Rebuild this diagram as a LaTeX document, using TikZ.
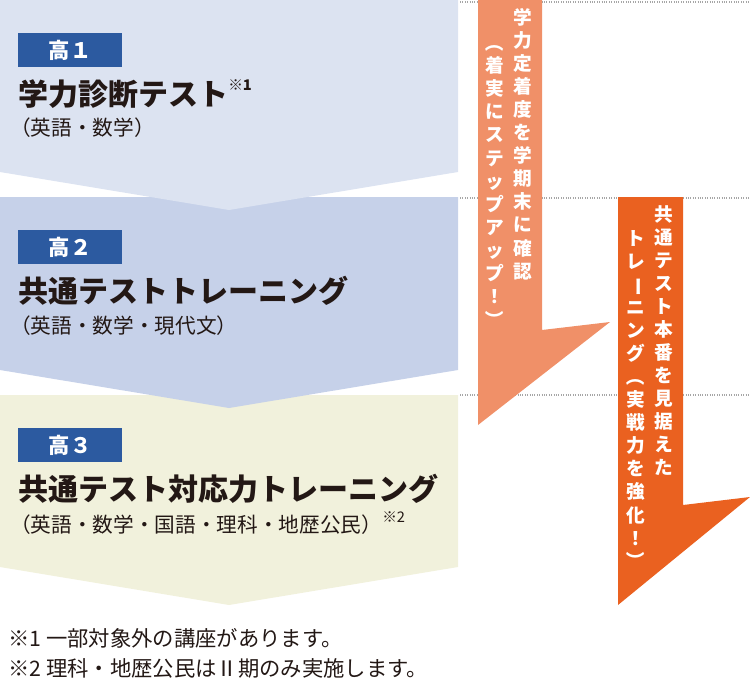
\documentclass[tikz,border=0pt]{standalone}
\usepackage{fontspec}
\setmainfont{Noto Sans CJK JP}
\usetikzlibrary{positioning}
\definecolor{bandA}{HTML}{DCE3F1}
\definecolor{bandB}{HTML}{C6D1E9}
\definecolor{bandC}{HTML}{F1F1DC}
\definecolor{tagBlue}{HTML}{2C5AA0}
\definecolor{inkDark}{HTML}{231815}
\definecolor{arrowSalmon}{HTML}{F09068}
\definecolor{arrowOrange}{HTML}{EA6120}
\newcommand{\rt}[1]{\rotatebox[origin=c]{-90}{#1}}
\tikzset{
  tagbox/.style={fill=tagBlue, text=white, font=\fontsize{16}{18}\selectfont\bfseries, minimum width=78pt, minimum height=25pt, inner sep=0pt},
  title/.style={anchor=west, text=inkDark, font=\fontsize{22.5}{26}\selectfont\bfseries, inner sep=0pt},
  subtitle/.style={anchor=west, text=inkDark, font=\fontsize{15.5}{18}\selectfont, inner sep=0pt},
  vcol/.style={anchor=north, text=white, align=center, inner sep=0pt, font=\fontsize{14}{17.3}\selectfont\bfseries},
  note/.style={anchor=west, text=inkDark, font=\fontsize{16}{18}\selectfont, inner sep=0pt},
  guide/.style={gray!70, densely dotted, line width=0.8pt}
}
\begin{document}
\begin{tikzpicture}[x=0.75pt, y=-0.75pt]
\useasboundingbox (0,0) rectangle (750,693);
% bands
\fill[bandC] (0,395) -- (458,395) -- (458,567) -- (229,605) -- (0,567) -- cycle;
\fill[bandB] (0,197) -- (458,197) -- (458,370) -- (229,408) -- (0,370) -- cycle;
\fill[bandA] (0,0) -- (458,0) -- (458,172) -- (229,210) -- (0,172) -- cycle;
% guides
\foreach \y in {2,198,395} \draw[guide] (460,\y) -- (750,\y);
% grade 1
\node[tagbox] (tag1) at (70,50) {高１};
\node[title] (title1) at (18,94) {学力診断テスト\raisebox{0.5em}{\fontsize{11}{11}\selectfont ※1}};
\node[subtitle] (sub1) at (10,128) {（英語・数学）};
% grade 2
\node[tagbox] (tag2) at (70,247) {高２};
\node[title] (title2) at (18,291) {共通テストトレーニング};
\node[subtitle] (sub2) at (10,326) {（英語・数学・現代文）};
% grade 3
\node[tagbox] (tag3) at (70,445) {高３};
\node[title] (title3) at (18,489) {共通テスト対応力トレーニング};
\node[subtitle] (sub3) at (10,523) {（英語・数学・国語・理科・地歴公民）\raisebox{0.45em}{\fontsize{11}{11}\selectfont ※2}};
% arrows
\fill[arrowSalmon] (478,0) -- (542,0) -- (542,330) -- (610,322) -- (478,425) -- cycle;
\fill[arrowOrange] (618,197) -- (683,197) -- (683,505) -- (750,497) -- (618,605) -- cycle;
\node[vcol] (colA) at (523,8) {学\\力\\定\\着\\度\\を\\学\\期\\末\\に\\確\\認};
\node[vcol] (colB) at (495,33) {\rt{（}\\着\\実\\に\\ス\\テ\\ッ\\プ\\ア\\ッ\\プ\\！\\\rt{）}};
\node[vcol] (colC) at (664,205) {共\\通\\テ\\ス\\ト\\本\\番\\を\\見\\据\\え\\た};
\node[vcol] (colD) at (636,230) {ト\\レ\\\rt{ー}\\ニ\\ン\\グ\\\rt{（}\\実\\戦\\力\\を\\強\\化\\！\\\rt{）}};
% notes
\node[note] (note1) at (8,638) {※1 一部対象外の講座があります。};
\node[note] (note2) at (8,668) {※2 理科・地歴公民はⅡ期のみ実施します。};
\end{tikzpicture}
\end{document}
